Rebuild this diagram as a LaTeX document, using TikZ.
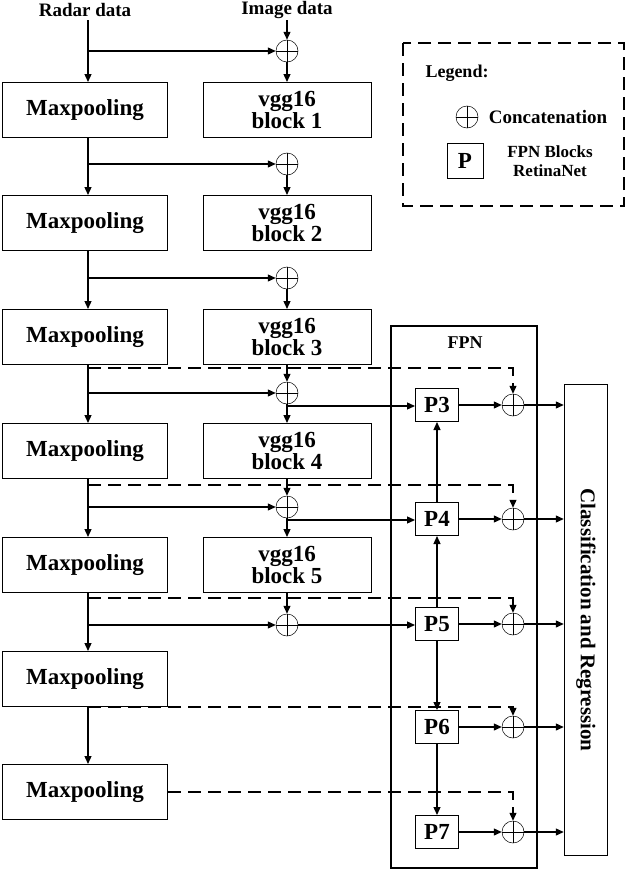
\documentclass[tikz,border=0pt]{standalone}
\usepackage{fontspec}
\setmainfont{Liberation Serif}
\usetikzlibrary{arrows.meta}
\begin{document}
\begin{tikzpicture}[x=1pt,y=-1pt,
  >={Triangle[length=8pt,width=7pt]},
  line width=1.3pt,
  blk/.style={draw,line width=1pt,minimum width=165pt,minimum height=55pt,font=\bfseries\fontsize{23}{24}\selectfont,align=center,inner sep=0pt},
  vgg/.style={blk,minimum width=168pt},
  pb/.style={draw,line width=1pt,minimum width=43pt,minimum height=33pt,font=\bfseries\fontsize{23}{24}\selectfont,inner sep=0pt},
  cat/.style={circle,draw,line width=0.5pt,minimum size=22pt,inner sep=0pt,
    path picture={\draw[line width=0.5pt] (path picture bounding box.north) -- (path picture bounding box.south)
      (path picture bounding box.west) -- (path picture bounding box.east);}},
  lbl/.style={font=\bfseries\fontsize{19}{21}\selectfont},
  dsh/.style={dashed,dash pattern=on 13pt off 7pt}]
\useasboundingbox (0,0) rectangle (640,881);

% left column
\foreach \i/\y in {1/110,2/223,3/337,4/451,5/565,6/679,7/792}
  \node[blk] (m\i) at (85,\y) {Maxpooling};
\foreach \i/\y in {1/110,2/223,3/337,4/451,5/565}
  \node[vgg] (v\i) at (287,\y) {vgg16\\[-2pt]block \i};
\foreach \i/\y in {1/51,2/164,3/278,4/393,5/507,6/625}
  \node[cat] (c\i) at (287,\y) {};

\node[lbl] (rd) at (85,10) {Radar data};
\node[lbl] (id) at (287,10) {Image data};
\coordinate (r0) at (88,20);
\coordinate (i0) at (287,20);

% radar path
\draw[->] (r0) -- (88,82);
\draw[->] (88,51) -- (c1.west);
\draw[->] (i0) -- (c1.north);
\draw[->] (c1.south) -- (v1.north);
\foreach \a/\b/\y in {1/2/164,2/3/278,3/4/393,4/5/507,5/6/625}{
  \draw[->] (m\a.south -| 88,0) -- (m\b.north -| 88,0);
  \draw[->] (88,\y) -- (c\b.west);
}
\draw[->] (m6.south -| 88,0) -- (m7.north -| 88,0);
\foreach \a in {2,3,4,5}
  \draw[->] (c\a.south) -- (v\a.north);
\draw[->] (v3.south) -- (c4.north);
\draw[->] (v4.south) -- (c5.north);
\draw[->] (v5.south) -- (c6.north);

% FPN
\draw[line width=1.5pt] (391,326) rectangle (537,868);
\node[font=\bfseries\fontsize{18}{20}\selectfont] (fpn) at (465,343) {FPN};
\foreach \i/\y in {3/405,4/519,5/624,6/727,7/832}{
  \node[pb] (p\i) at (437,\y) {P\i};
  \node[cat] (q\i) at (513,\y) {};
  \draw[->] (p\i) -- (q\i);
}
\node[draw,line width=1.5pt,minimum width=43pt,minimum height=471pt,inner sep=0pt] (cls) at (586,620) {};
\node[rotate=-90,font=\bfseries\fontsize{21}{23}\selectfont] (clt) at (cls) {Classification and Regression};
\foreach \i in {3,...,7}
  \draw[->] (q\i) -- (q\i -| cls.west);

\draw[->] (287,406) -- (p3.west |- 0,406);
\draw[->] (287,520) -- (p4.west |- 0,520);
\draw[->,line width=1.4pt] (c6.east) -- (p5.west |- c6.east);
\draw[->] (p4) -- (p3);
\draw[->] (p5) -- (p4);
\draw[->] (p5) -- (p6);
\draw[->] (p6) -- (p7);

% dashed radar links
\foreach \y/\i in {368/3,485/4,598/5}
  \draw[dsh,->] (88,\y) -| (q\i.north);
\draw[dsh,->] (m6.south -| 88,0) -| (q6.north);
\draw[dsh,->] (m7.east) -| (q7.north);

% legend
\draw[dsh,line width=1.5pt] (403,43) rectangle (624,206);
\node[font=\bfseries\fontsize{18}{20}\selectfont] (lg) at (457,73) {Legend:};
\node[cat] (lc) at (467,117) {};
\node[lbl] (lct) at (548,117) {Concatenation};
\node[pb,minimum width=36pt,minimum height=35pt] (lp) at (465,161) {P};
\node[font=\bfseries\fontsize{17}{19}\selectfont,align=center] (lpt) at (550,161) {FPN Blocks\\RetinaNet};
\end{tikzpicture}
\end{document}
